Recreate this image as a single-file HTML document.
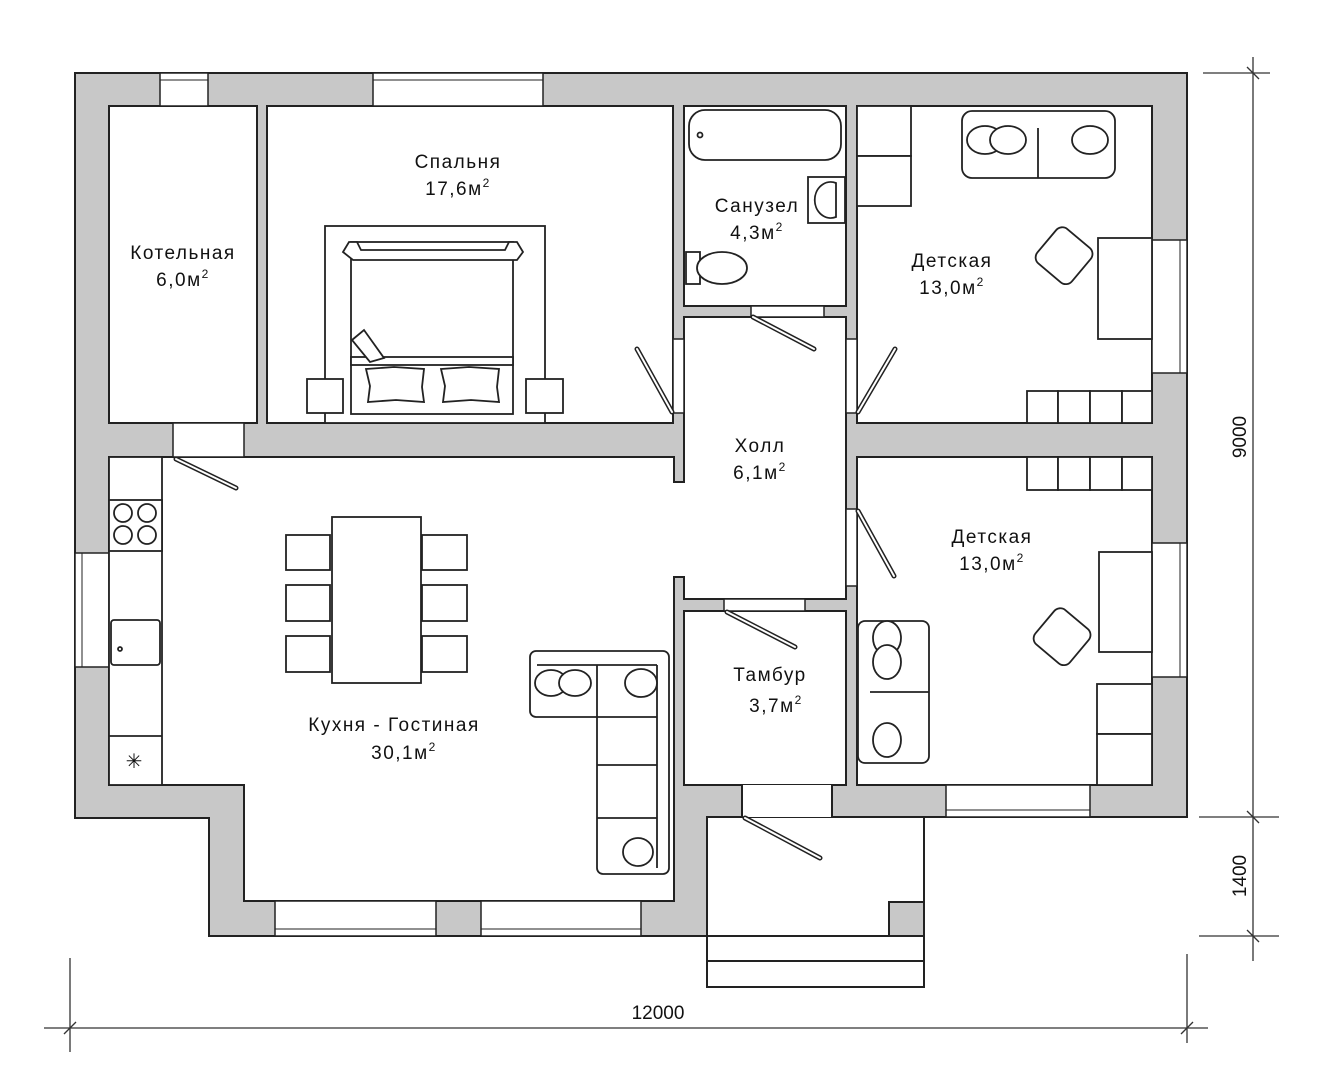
<!DOCTYPE html>
<html><head><meta charset="utf-8"><style>
html,body{margin:0;padding:0;background:#fff;}
svg{display:block;}
text{font-family:"Liberation Sans",sans-serif;fill:#111;}
.lbl{font-size:19px;letter-spacing:1.5px;text-anchor:middle;}
</style></head><body>
<svg width="1318" height="1080" viewBox="0 0 1318 1080" xmlns="http://www.w3.org/2000/svg">
<!-- outer gray walls -->
<polygon points="75,73 1187,73 1187,817 707,817 707,936 209,936 209,818 75,818" fill="#c8c8c8" stroke="#222" stroke-width="2"/>

<g fill="#fff" stroke="#222" stroke-width="2">
<!-- rooms -->
<rect x="109" y="106" width="148" height="317"/>
<rect x="267" y="106" width="406" height="317"/>
<rect x="684" y="106" width="162" height="200"/>
<rect x="857" y="106" width="295" height="317"/>
<rect x="684" y="317" width="162" height="282"/>
<rect x="684" y="611" width="162" height="174"/>
<rect x="857" y="457" width="295" height="328"/>
<polygon points="109,457 674,457 674,901 244,901 244,785 109,785"/>
<!-- porch -->
<rect x="707" y="817" width="217" height="119"/>
<rect x="707" y="936" width="217" height="51"/>
</g>
<line x1="707" y1="961" x2="924" y2="961" stroke="#222" stroke-width="2"/>
<rect x="889" y="902" width="35" height="34" fill="#c8c8c8" stroke="#222" stroke-width="2"/>

<!-- kitchen-hall opening -->
<rect x="672" y="483" width="14" height="93" fill="#fff"/>
<line x1="674" y1="457" x2="674" y2="482" stroke="#222" stroke-width="2"/>
<line x1="674" y1="482" x2="684" y2="482" stroke="#222" stroke-width="2"/>
<line x1="674" y1="577" x2="684" y2="577" stroke="#222" stroke-width="2"/>
<line x1="684" y1="577" x2="684" y2="599" stroke="#222" stroke-width="2"/>

<!-- door openings -->
<g fill="#fff" stroke="#222" stroke-width="1.5">
<rect x="173" y="423" width="71" height="34"/>
<rect x="751" y="306" width="73" height="11"/>
<rect x="673" y="339" width="11" height="74"/>
<rect x="846" y="339" width="11" height="74"/>
<rect x="724" y="599" width="81" height="12"/>
<rect x="846" y="509" width="11" height="77"/>
<rect x="742" y="785" width="90" height="32" stroke="none"/>
</g>
<line x1="742" y1="785" x2="742" y2="817" stroke="#222" stroke-width="2"/>
<line x1="832" y1="785" x2="832" y2="817" stroke="#222" stroke-width="2"/>

<!-- windows -->
<g fill="#fff" stroke="#222" stroke-width="1.5">
<rect x="160" y="73" width="48" height="33"/>
<rect x="373" y="73" width="170" height="33"/>
<rect x="1152" y="240" width="35" height="133"/>
<rect x="1152" y="543" width="35" height="134"/>
<rect x="75" y="553" width="34" height="114"/>
<rect x="946" y="785" width="144" height="32"/>
<rect x="275" y="901" width="161" height="35"/>
<rect x="481" y="901" width="160" height="35"/>
</g>
<g stroke="#222" stroke-width="1">
<line x1="160" y1="80" x2="208" y2="80"/>
<line x1="373" y1="80" x2="543" y2="80"/>
<line x1="1180" y1="240" x2="1180" y2="373"/>
<line x1="1180" y1="543" x2="1180" y2="677"/>
<line x1="82" y1="553" x2="82" y2="667"/>
<line x1="946" y1="810" x2="1090" y2="810"/>
<line x1="275" y1="929" x2="436" y2="929"/>
<line x1="481" y1="929" x2="641" y2="929"/>
</g>

<!-- door leaves -->
<g stroke="#222" stroke-width="5" stroke-linecap="round">
<line x1="176" y1="459" x2="236" y2="488"/>
<line x1="753" y1="317" x2="814" y2="349"/>
<line x1="672" y1="412" x2="637" y2="349"/>
<line x1="858" y1="412" x2="895" y2="349"/>
<line x1="727" y1="612" x2="795" y2="647"/>
<line x1="858" y1="511" x2="894" y2="576"/>
<line x1="745" y1="818" x2="820" y2="858"/>
</g>
<g stroke="#fff" stroke-width="2" stroke-linecap="round">
<line x1="176" y1="459" x2="236" y2="488"/>
<line x1="753" y1="317" x2="814" y2="349"/>
<line x1="672" y1="412" x2="637" y2="349"/>
<line x1="858" y1="412" x2="895" y2="349"/>
<line x1="727" y1="612" x2="795" y2="647"/>
<line x1="858" y1="511" x2="894" y2="576"/>
<line x1="745" y1="818" x2="820" y2="858"/>
</g>

<!-- furniture -->
<g fill="#fff" stroke="#222" stroke-width="1.8">
<!-- bed -->
<rect x="325" y="226" width="220" height="197"/>
<rect x="351" y="242" width="162" height="172"/>
<rect x="351" y="357" width="162" height="8"/>
<path d="M343,252 l6,-10 h8 l4,8 h144 l4,-8 h8 l6,10 l-6,8 h-164 z"/>
<rect x="307" y="379" width="36" height="34"/>
<rect x="526" y="379" width="37" height="34"/>
<path d="M366,369 l28,-2 l30,2 l-2,18 l2,15 l-28,-2 l-28,2 l2,-16 z"/>
<path d="M441,369 l28,-2 l30,2 l-2,18 l2,15 l-28,-2 l-28,2 l2,-16 z"/>
<path d="M352,340 l12,-10 l20,28 l-14,4 z"/>
<!-- bath -->
<rect x="689" y="110" width="152" height="50" rx="16"/>
<circle cx="700" cy="135" r="2.5"/>
<rect x="808" y="177" width="37" height="46"/>
<path d="M836,183 a16,18 0 1,0 0,34 z"/>
<!-- toilet -->
<rect x="686" y="252" width="14" height="32"/>
<ellipse cx="722" cy="268" rx="25" ry="16"/>
<!-- det1 wardrobe -->
<rect x="857" y="106" width="54" height="50"/>
<rect x="857" y="156" width="54" height="50"/>
<!-- det1 sofa -->
<rect x="962" y="111" width="153" height="67" rx="10"/>
<line x1="1038" y1="128" x2="1038" y2="178"/>
<ellipse cx="985" cy="140" rx="18" ry="14"/>
<ellipse cx="1008" cy="140" rx="18" ry="14"/>
<ellipse cx="1090" cy="140" rx="18" ry="14"/>
<!-- det1 desk & chair -->
<rect x="1098" y="238" width="54" height="101"/>
<rect x="1042" y="233" width="45" height="45" rx="8" transform="rotate(40 1064 255)"/>
<!-- shelves -->
<rect x="1027" y="391" width="31" height="32"/>
<rect x="1058" y="391" width="32" height="32"/>
<rect x="1090" y="391" width="32" height="32"/>
<rect x="1122" y="391" width="30" height="32"/>
<rect x="1027" y="457" width="31" height="33"/>
<rect x="1058" y="457" width="32" height="33"/>
<rect x="1090" y="457" width="32" height="33"/>
<rect x="1122" y="457" width="30" height="33"/>
<!-- det2 -->
<rect x="1099" y="552" width="53" height="100"/>
<rect x="1097" y="684" width="55" height="50"/>
<rect x="1097" y="734" width="55" height="51"/>
<rect x="1040" y="614" width="45" height="45" rx="8" transform="rotate(40 1062 636)"/>
<rect x="858" y="621" width="71" height="142" rx="7"/>
<line x1="870" y1="692" x2="929" y2="692"/>
<ellipse cx="887" cy="638" rx="14" ry="17"/>
<ellipse cx="887" cy="662" rx="14" ry="17"/>
<ellipse cx="887" cy="740" rx="14" ry="17"/>
<!-- kitchen counter -->
<rect x="109" y="457" width="53" height="328"/>
<rect x="109" y="500" width="53" height="51"/>
<circle cx="123" cy="513" r="9"/><circle cx="147" cy="513" r="9"/>
<circle cx="123" cy="535" r="9"/><circle cx="147" cy="535" r="9"/>
<rect x="111" y="620" width="49" height="45" rx="3"/>
<circle cx="120" cy="649" r="2"/>
<line x1="109" y1="736" x2="162" y2="736"/>
<!-- table and chairs -->
<rect x="332" y="517" width="89" height="166"/>
<rect x="286" y="535" width="44" height="35"/>
<rect x="286" y="585" width="44" height="36"/>
<rect x="286" y="636" width="44" height="36"/>
<rect x="422" y="535" width="45" height="35"/>
<rect x="422" y="585" width="45" height="36"/>
<rect x="422" y="636" width="45" height="36"/>
<!-- L sofa -->
<path d="M536,651 h127 a6,6 0 0 1 6,6 v211 a6,6 0 0 1 -6,6 h-60 a6,6 0 0 1 -6,-6 v-151 h-61 a6,6 0 0 1 -6,-6 v-54 a6,6 0 0 1 6,-6 z"/>
<line x1="597" y1="665" x2="597" y2="717"/>
<line x1="597" y1="717" x2="657" y2="717"/>
<line x1="597" y1="765" x2="657" y2="765"/>
<line x1="597" y1="818" x2="657" y2="818"/>
<line x1="657" y1="665" x2="657" y2="868"/>
<line x1="537" y1="665" x2="657" y2="665"/>
<ellipse cx="551" cy="683" rx="16" ry="13"/>
<ellipse cx="575" cy="683" rx="16" ry="13"/>
<ellipse cx="641" cy="683" rx="16" ry="14"/>
<ellipse cx="638" cy="852" rx="15" ry="14"/>
</g>
<text x="134" y="768" font-size="20" text-anchor="middle">✳</text>

<!-- labels -->
<text class="lbl" x="183" y="259">Котельная</text>
<text class="lbl" x="183" y="286">6,0м<tspan font-size="12" dy="-8">2</tspan></text>
<text class="lbl" x="458" y="168">Спальня</text>
<text class="lbl" x="458" y="195">17,6м<tspan font-size="12" dy="-8">2</tspan></text>
<text class="lbl" x="757" y="212">Санузел</text>
<text class="lbl" x="757" y="239">4,3м<tspan font-size="12" dy="-8">2</tspan></text>
<text class="lbl" x="952" y="267">Детская</text>
<text class="lbl" x="952" y="294">13,0м<tspan font-size="12" dy="-8">2</tspan></text>
<text class="lbl" x="760" y="452">Холл</text>
<text class="lbl" x="760" y="479">6,1м<tspan font-size="12" dy="-8">2</tspan></text>
<text class="lbl" x="992" y="543">Детская</text>
<text class="lbl" x="992" y="570">13,0м<tspan font-size="12" dy="-8">2</tspan></text>
<text class="lbl" x="770" y="681">Тамбур</text>
<text class="lbl" x="776" y="712">3,7м<tspan font-size="12" dy="-8">2</tspan></text>
<text class="lbl" x="394" y="731">Кухня - Гостиная</text>
<text class="lbl" x="404" y="759">30,1м<tspan font-size="12" dy="-8">2</tspan></text>

<!-- dimensions -->
<g stroke="#333" stroke-width="1.3">
<line x1="44" y1="1028" x2="1208" y2="1028"/>
<line x1="70" y1="958" x2="70" y2="1052"/>
<line x1="1187" y1="954" x2="1187" y2="1043"/>
<line x1="64" y1="1034" x2="76" y2="1022"/>
<line x1="1181" y1="1034" x2="1193" y2="1022"/>
<line x1="1253" y1="57" x2="1253" y2="961"/>
<line x1="1203" y1="73" x2="1270" y2="73"/>
<line x1="1199" y1="817" x2="1279" y2="817"/>
<line x1="1199" y1="936" x2="1279" y2="936"/>
<line x1="1247" y1="67" x2="1259" y2="79"/>
<line x1="1247" y1="811" x2="1259" y2="823"/>
<line x1="1247" y1="930" x2="1259" y2="942"/>
</g>
<text x="658" y="1019" font-size="19" text-anchor="middle">12000</text>
<text x="0" y="0" font-size="19" text-anchor="middle" transform="translate(1246,437) rotate(-90)">9000</text>
<text x="0" y="0" font-size="19" text-anchor="middle" transform="translate(1246,876) rotate(-90)">1400</text>
</svg>
</body></html>
